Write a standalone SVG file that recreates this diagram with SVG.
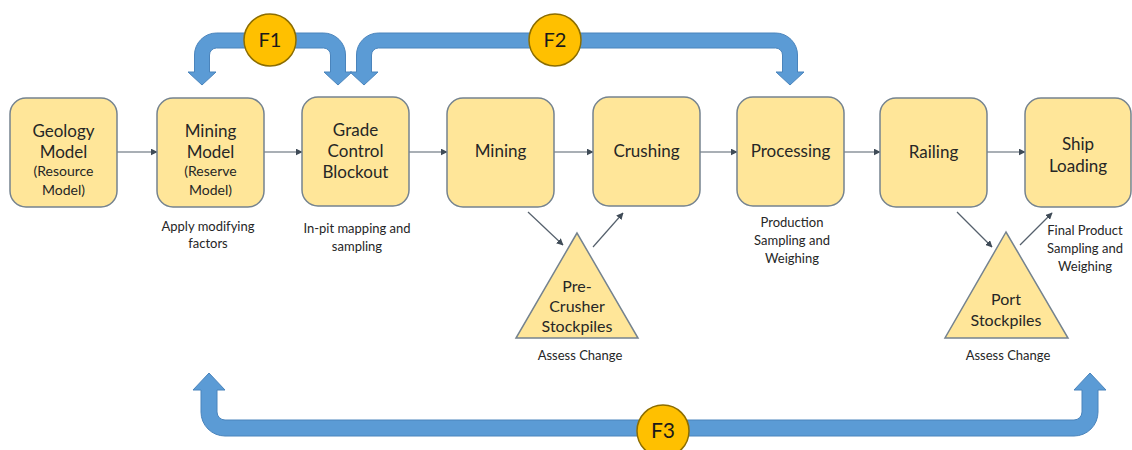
<svg xmlns="http://www.w3.org/2000/svg" width="1132" height="450" viewBox="0 0 1132 450">
<style>
.box{fill:#FFE699;stroke:#75838F;stroke-width:1.5}
.tri{fill:#FFE699;stroke:#75838F;stroke-width:1.5}
.t{font-family:Lato,"Liberation Sans",sans-serif;font-size:17px;fill:#262626;text-anchor:middle}
.ts{font-family:Lato,"Liberation Sans",sans-serif;font-size:14px;fill:#262626;text-anchor:middle}
.lb{font-family:Lato,"Liberation Sans",sans-serif;font-size:13px;fill:#262626;text-anchor:middle}
.fb{fill:#5B9BD5;stroke:#4A84BC;stroke-width:1}
.fc{fill:#FFC000;stroke:#8C6D00;stroke-width:1.5}
.ft{font-family:Lato,"Liberation Sans",sans-serif;font-size:20px;fill:#1a1a1a;text-anchor:middle}
.c{stroke:#55606C;stroke-width:1.2;fill:none;marker-end:url(#ah)}
</style>
<defs>
<marker id="ah" viewBox="0 0 10 10" refX="9" refY="5" markerWidth="7" markerHeight="7" markerUnits="userSpaceOnUse" orient="auto">
<path d="M0,0 L10,5 L0,10 z" fill="#3F4B57"/>
</marker>
</defs>
<rect width="1132" height="450" fill="#ffffff"/>

<g id="connectors">
<line class="c" x1="117" y1="152" x2="157" y2="152"/>
<line class="c" x1="264" y1="152" x2="302" y2="152"/>
<line class="c" x1="409" y1="152" x2="447" y2="152"/>
<line class="c" x1="554" y1="152" x2="593" y2="152"/>
<line class="c" x1="700" y1="152" x2="737" y2="152"/>
<line class="c" x1="844" y1="152" x2="880" y2="152"/>
<line class="c" x1="987" y1="152" x2="1025" y2="152"/>
<line class="c" x1="528" y1="212" x2="563" y2="245"/>
<line class="c" x1="593" y1="247" x2="623" y2="213"/>
<line class="c" x1="957" y1="212" x2="992" y2="247"/>
<line class="c" x1="1020" y1="245" x2="1052" y2="213"/>
</g>

<g id="F1">
<path class="fb" d="M202,85 L216,72 L209.5,72 L209.5,55 A7,7 0 0 1 216.5,48 L323.5,48 A7,7 0 0 1 330.5,55 L330.5,72 L324,72 L338,85 L352,72 L345.5,72 L345.5,55 A22,22 0 0 0 323.5,33 L216.5,33 A22,22 0 0 0 194.5,55 L194.5,72 L188,72 Z"/>
<circle class="fc" cx="270" cy="40" r="26"/>
<text class="ft" x="270" y="47">F1</text>
</g>
<g id="F2">
<path class="fb" d="M364,85 L378,72 L371.5,72 L371.5,55 A7,7 0 0 1 378.5,48 L775.5,48 A7,7 0 0 1 782.5,55 L782.5,72 L776,72 L790,85 L804,72 L797.5,72 L797.5,55 A22,22 0 0 0 775.5,33 L378.5,33 A22,22 0 0 0 356.5,55 L356.5,72 L350,72 Z"/>
<circle class="fc" cx="555" cy="40" r="26"/>
<text class="ft" x="555" y="47">F2</text>
</g>
<g id="F3">
<path class="fb" d="M209,373 L225,390 L217,390 L217,412 A8,8 0 0 0 225,420 L1074,420 A8,8 0 0 0 1082,412 L1082,390 L1074,390 L1090,373 L1106,390 L1098,390 L1098,412 A24,24 0 0 1 1074,436 L225,436 A24,24 0 0 1 201,412 L201,390 L193,390 Z"/>
<circle class="fc" cx="663" cy="431" r="26"/>
<text class="ft" x="663" y="438" style="font-size:21px">F3</text>
</g>

<g id="geology">
<rect class="box" x="10" y="98" width="107" height="109" rx="16"/>
<text class="t" x="63.5" y="137">Geology</text>
<text class="t" x="63.5" y="158">Model</text>
<text class="ts" x="63.5" y="176">(Resource</text>
<text class="ts" x="63.5" y="195">Model)</text>
</g>
<g id="mining-model">
<rect class="box" x="157" y="98" width="107" height="109" rx="16"/>
<text class="t" x="210.5" y="137">Mining</text>
<text class="t" x="210.5" y="158">Model</text>
<text class="ts" x="210.5" y="176">(Reserve</text>
<text class="ts" x="210.5" y="195">Model)</text>
<text class="lb" x="208" y="231">Apply modifying</text>
<text class="lb" x="208" y="248">factors</text>
</g>
<g id="grade-control">
<rect class="box" x="302" y="97" width="107" height="109" rx="16"/>
<text class="t" x="355.5" y="136">Grade</text>
<text class="t" x="355.5" y="157">Control</text>
<text class="t" x="355.5" y="178">Blockout</text>
<text class="lb" x="357" y="233">In-pit mapping and</text>
<text class="lb" x="357" y="251">sampling</text>
</g>
<g id="mining">
<rect class="box" x="447" y="98" width="107" height="109" rx="16"/>
<text class="t" x="500.5" y="157">Mining</text>
</g>
<g id="crushing">
<rect class="box" x="593" y="97" width="107" height="109" rx="16"/>
<text class="t" x="646.5" y="157">Crushing</text>
</g>
<g id="processing">
<rect class="box" x="737" y="97" width="107" height="109" rx="16"/>
<text class="t" x="790.5" y="157">Processing</text>
<text class="lb" x="792" y="227">Production</text>
<text class="lb" x="792" y="245">Sampling and</text>
<text class="lb" x="792" y="263">Weighing</text>
</g>
<g id="railing">
<rect class="box" x="880" y="98" width="107" height="109" rx="16"/>
<text class="t" x="933.5" y="158">Railing</text>
</g>
<g id="ship-loading">
<rect class="box" x="1025" y="98" width="106" height="109" rx="16"/>
<text class="t" x="1078" y="150">Ship</text>
<text class="t" x="1078" y="172">Loading</text>
<text class="lb" x="1085" y="235">Final Product</text>
<text class="lb" x="1085" y="253">Sampling and</text>
<text class="lb" x="1085" y="271">Weighing</text>
</g>
<g id="pre-crusher-stockpiles">
<polygon class="tri" points="577,233 516,338 638,338"/>
<text class="t" x="577" y="292" style="font-size:16px">Pre-</text>
<text class="t" x="577" y="312" style="font-size:16px">Crusher</text>
<text class="t" x="577" y="332" style="font-size:16px">Stockpiles</text>
<text class="lb" x="580" y="360">Assess Change</text>
</g>
<g id="port-stockpiles">
<polygon class="tri" points="1006,232 945,338 1068,338"/>
<text class="t" x="1006" y="305" style="font-size:16px">Port</text>
<text class="t" x="1006" y="326" style="font-size:16px">Stockpiles</text>
<text class="lb" x="1008" y="360">Assess Change</text>
</g>
</svg>
